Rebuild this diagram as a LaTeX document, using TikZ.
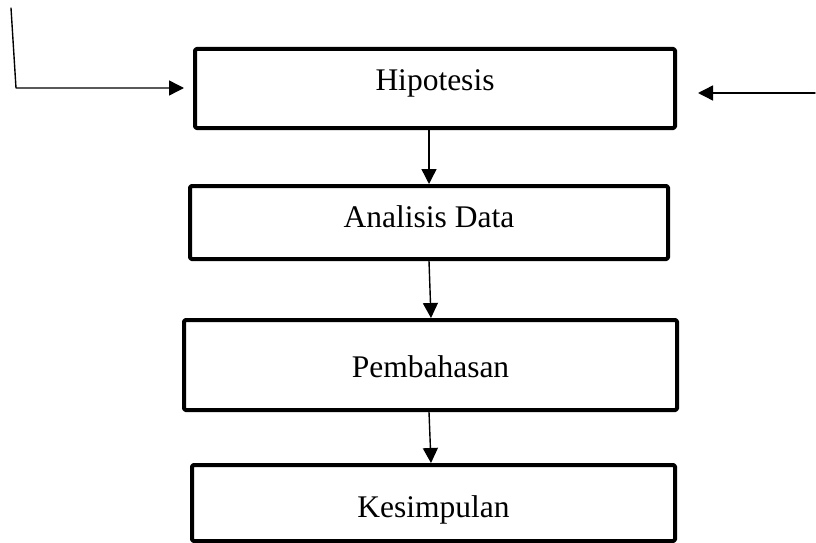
\documentclass[tikz,border=0pt]{standalone}
\usepackage{fontspec}
\setmainfont{Liberation Serif}
\usepackage{tikz}
\usetikzlibrary{positioning,calc,arrows.meta}

\begin{document}
\begin{tikzpicture}[x=1pt,y=-1pt, font=\fontsize{31.5}{36}\selectfont, line cap=round, line join=round]
		\useasboundingbox (0,0) rectangle (816,543);
		
		% ===== style kotak & panah =====
		\tikzset{tahap/.style={draw=black, line width=4pt, rounded corners=1.5pt, inner sep=0pt, anchor=north},
			alur/.style={draw=black, line width=1.4pt, -{Triangle[length=15pt,width=15pt]}}}
		
		% ===== kotak-kotak (dari atas ke bawah) =====
		\node[tahap, minimum width=480pt, text height=41pt, text depth=38pt] (hip) at (435,47) {Hipotesis};
		\node[tahap, minimum width=478pt, text height=41pt, text depth=32pt] (ana) at (429,184) {Analisis Data};
		\node[tahap, minimum width=493pt, text height=57pt, text depth=33pt] (pem) at (430.5,318) {Pembahasan};
		\node[tahap, minimum width=483pt, text height=52pt, text depth=24pt] (kes) at (433.5,463) {Kesimpulan};
		
		% ===== panah antar kotak =====
		\draw[alur] ([xshift=-6pt]hip.south) -- (ana.north);
		\draw[alur] (ana.south) -- ([xshift=0.5pt]pem.north);
		\draw[alur] ([xshift=-1.5pt]pem.south) -- ([xshift=-2.5pt]kes.north);
		
		% ===== panah masuk (kiri & kanan) =====
		\coordinate (masukL) at (11,8);
		\coordinate (tekukL) at (16,88);
		\draw[alur, shorten >=9pt] (masukL) -- (tekukL) -- (tekukL -| hip.west);
		
		\coordinate (masukR) at (815,93);
		\draw[alur, shorten >=21pt] (masukR) -- ([yshift=-4.5pt]hip.east);
		
	\end{tikzpicture}
\end{document}
